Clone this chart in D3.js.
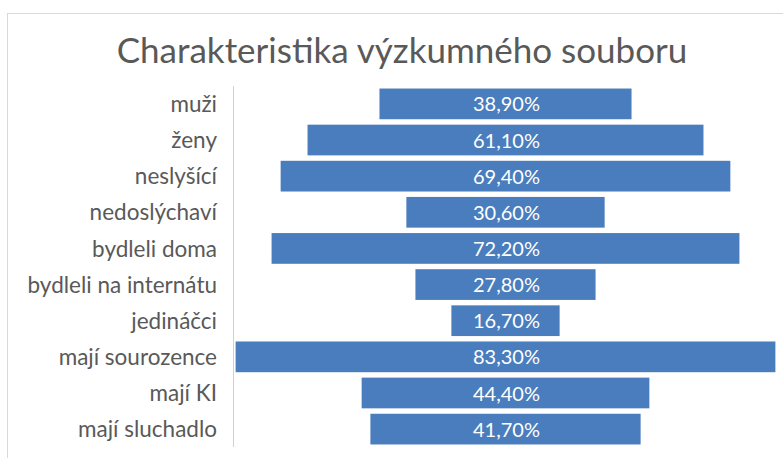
<!DOCTYPE html>
<html>
<head>
<meta charset="utf-8">
<script src="https://cdn.jsdelivr.net/npm/d3@7"></script>
<style>
  body { margin: 0; background: #fff; }
  text { font-family: Lato, "Open Sans", sans-serif; }
</style>
</head>
<body>
<svg id="chart" width="783" height="458"></svg>
<script>
// data
var categories = ['muži', 'ženy', 'neslyšící', 'nedoslýchaví', 'bydleli doma',
  'bydleli na internátu', 'jedináčci', 'mají sourozence', 'mají KI', 'mají sluchadlo']
var values = [38.9, 61.1, 69.4, 30.6, 72.2, 27.8, 16.7, 83.3, 44.4, 41.7]
var title = 'Charakteristika výzkumného souboru'

var svg = d3.select('#chart')
var cx = 505.5

// bars are centred on cx, so the axis runs symmetric around 0
var x = d3.scaleLinear().domain([-50, 50]).range([cx - 324, cx + 324])
var y = d3.scaleBand().domain(categories).range([86, 447]).paddingInner(0.15).paddingOuter(0.07)

var fmt = function(v) { return d3.format('.2f')(v).replace('.', ',') + '%' }

// chart frame
svg.append('rect')
  .attr('x', 7.5).attr('y', 13.5)
  .attr('width', 800).attr('height', 460)
  .attr('fill', 'none').attr('stroke', '#d9d9d9')

svg.append('text')
  .attr('x', 402).attr('y', 63)
  .attr('text-anchor', 'middle')
  .style('font-size', '35px')
  .style('fill', '#595959')
  .text(title)

// category axis line
svg.append('line')
  .attr('x1', 233.5).attr('x2', 233.5)
  .attr('y1', 86).attr('y2', 447)
  .attr('stroke', '#d0d0d0')

svg.selectAll('.cat')
  .data(categories)
  .enter().append('text')
  .attr('class', 'cat')
  .attr('x', 217)
  .attr('y', d => y(d) + y.bandwidth() / 2)
  .attr('dy', '0.36em')
  .attr('text-anchor', 'end')
  .style('font-size', '22.5px')
  .style('fill', '#595959')
  .text(d => d)

svg.selectAll('.bar')
  .data(values)
  .enter().append('rect')
  .attr('class', 'bar')
  .attr('x', d => x(-d / 2))
  .attr('y', (d, i) => y(categories[i]))
  .attr('width', d => x(d / 2) - x(-d / 2))
  .attr('height', y.bandwidth())
  .attr('fill', '#4a7dbd')

svg.selectAll('.val')
  .data(values)
  .enter().append('text')
  .attr('class', 'val')
  .attr('x', cx + 1)
  .attr('y', (d, i) => y(categories[i]) + y.bandwidth() / 2)
  .attr('dy', '0.38em')
  .attr('text-anchor', 'middle')
  .style('font-size', '20px')
  .style('fill', '#fff')
  .text(fmt)
</script>
</body>
</html>
